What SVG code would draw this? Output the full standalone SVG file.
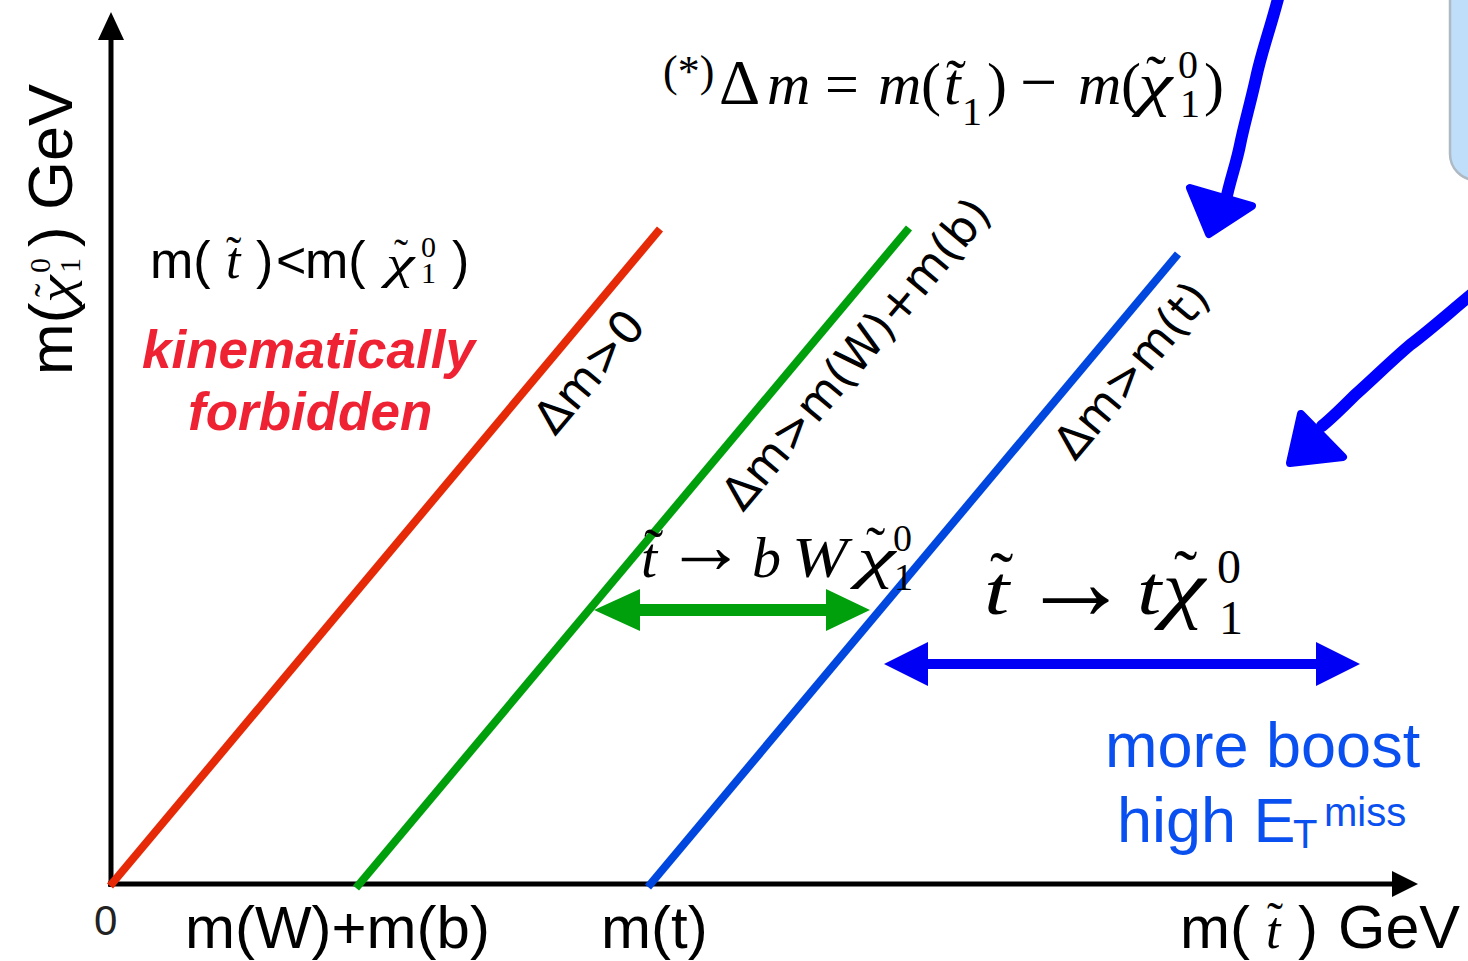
<svg xmlns="http://www.w3.org/2000/svg" width="1468" height="961" viewBox="0 0 1468 961">
<style>
.sans{font-family:"Liberation Sans",Arial,sans-serif}
.serif{font-family:"Liberation Serif","DejaVu Serif","Times New Roman",serif}
.it{font-style:italic}
.lbl{font-family:"DejaVu Sans",sans-serif;font-size:46px;fill:#000}
.ax{stroke:#000;stroke-width:5;fill:none}
.hand{stroke:#0000FF;fill:none;stroke-linecap:round;stroke-linejoin:round}
.handhead{fill:#0000FF;stroke:#0000FF;stroke-width:8;stroke-linejoin:round}
</style>
<rect width="1468" height="961" fill="#fff"/>
<g id="note-box">
<rect x="1450" y="-40" width="62" height="220" rx="26" fill="#BFDEF9" stroke="#AEB9C3" stroke-width="2.5"/>
</g>
<g id="axes">
<line class="ax" x1="111" y1="887" x2="111" y2="36"/>
<polygon points="111,12 98,40 124,40" fill="#000"/>
<line class="ax" x1="108" y1="884" x2="1396" y2="884"/>
<polygon points="1418,884 1392,871 1392,897" fill="#000"/>
</g>
<g id="connectors">
<line id="red-line" x1="110" y1="886" x2="660" y2="229" stroke="#E62A08" stroke-width="8"/>
<line id="green-line" x1="356" y1="888" x2="909" y2="228" stroke="#00A00C" stroke-width="8"/>
<line id="blue-line" x1="648" y1="887" x2="1178" y2="254" stroke="#0047E0" stroke-width="8"/>
<g id="green-arrow" fill="#00A00C">
<line x1="635" y1="610" x2="830" y2="610" stroke="#00A00C" stroke-width="12"/>
<polygon points="594,610 640,589 640,631"/>
<polygon points="870,610 826,589 826,631"/>
</g>
<g id="blue-arrow" fill="#0000F5">
<line x1="920" y1="664" x2="1325" y2="664" stroke="#0000F5" stroke-width="10"/>
<polygon points="884,664 928,642 928,686"/>
<polygon points="1360,664 1316,642 1316,686"/>
</g>
<g id="hand-arrow-1">
<path class="hand" stroke-width="12" d="M1279,-5 C1270,30 1262,50 1256,78 C1250,105 1244,125 1240,145 C1236,165 1230,180 1226,200"/>
<polygon class="handhead" points="1190,188 1252,206 1209,234"/>
</g>
<g id="hand-arrow-2">
<path class="hand" stroke-width="12" d="M1472,294 C1450,312 1430,330 1410,345 C1390,362 1372,380 1355,395 C1342,408 1332,418 1322,426"/>
<polygon class="handhead" points="1301,414 1343,457 1290,463"/>
</g>
</g>
<g id="formula" class="serif" font-size="60">
<text x="663" y="86" font-size="44">(*)</text>
<text x="719" y="104" font-size="64">Δ</text>
<text x="767" y="104" class="it">m</text>
<text x="825" y="104">=</text>
<text x="878" y="104" class="it">m</text>
<text x="921" y="104">(</text>
<text x="944" y="104" class="it">t</text>
<text x="946" y="100">˜</text>
<text x="962" y="125" font-size="40">1</text>
<text x="987" y="104">)</text>
<text x="1020" y="104" font-size="66">−</text>
<text x="1078" y="104" class="it">m</text>
<text x="1121" y="104">(</text>
<text class="it" transform="translate(1138,104) scale(1.3,1)">χ</text>
<text x="1146" y="96">˜</text>
<text x="1178" y="78" font-size="40">0</text>
<text x="1180" y="117" font-size="40">1</text>
<text x="1204" y="104">)</text>
</g>
<g id="y-label" transform="translate(72,375) rotate(-90)">
<text x="0" y="0" class="sans" font-size="62">m(</text>
<text class="serif it" font-size="48" transform="translate(72,0) scale(1.3,1)">χ</text>
<text x="78" y="-10" class="serif" font-size="40">˜</text>
<text x="102" y="-22" class="serif" font-size="30">0</text>
<text x="102" y="8" class="serif" font-size="30">1</text>
<text x="128" y="0" class="sans" font-size="62">)</text>
<text x="165" y="0" class="sans" font-size="63">GeV</text>
</g>
<g id="forbidden-label">
<text x="150" y="278" class="sans" font-size="52">m(</text>
<text x="226" y="278" class="serif it" font-size="52">t</text>
<text x="226" y="268" class="serif" font-size="46">˜</text>
<text x="256" y="278" class="sans" font-size="52">)</text>
<text x="276" y="278" class="sans" font-size="52">&lt;</text>
<text x="305" y="278" class="sans" font-size="52">m(</text>
<text class="serif it" font-size="46" transform="translate(386,278) scale(1.4,1)">χ</text>
<text x="394" y="268" class="serif" font-size="42">˜</text>
<text x="421" y="257" class="serif" font-size="30">0</text>
<text x="421" y="283" class="serif" font-size="30">1</text>
<text x="452" y="278" class="sans" font-size="52">)</text>
<text x="142" y="368" class="sans" font-size="53" font-weight="bold" font-style="italic" fill="#EE2233">kinematically</text>
<text x="188" y="430" class="sans" font-size="53" font-weight="bold" font-style="italic" fill="#EE2233">forbidden</text>
</g>
<g id="line-labels">
<text class="lbl" transform="translate(555,437) rotate(-50)">Δm&gt;0</text>
<text class="lbl" transform="translate(743,513) rotate(-50)">Δm&gt;m(W)+m(b)</text>
<text class="lbl" transform="translate(1075,462) rotate(-50)">Δm&gt;m(t)</text>
</g>
<g id="decay-bW" class="serif" font-size="58">
<text x="641" y="577" class="it">t</text>
<text x="644" y="568">˜</text>
<text x="665" y="573" font-size="81">→</text>
<text x="752" y="577" class="it">b</text>
<text class="it" transform="translate(792,577) scale(1.15,1)">W</text>
<text class="it" transform="translate(857,577) scale(1.5,1)">χ</text>
<text x="866" y="566">˜</text>
<text x="893" y="551" font-size="38">0</text>
<text x="894" y="590" font-size="38">1</text>
</g>
<g id="decay-t" class="serif" font-size="70">
<text class="it" transform="translate(984,614) scale(1.3,1)">t</text>
<text x="990" y="600">˜</text>
<text x="1020" y="619" font-size="111">→</text>
<text class="it" transform="translate(1137,614) scale(1.25,1)">t</text>
<text class="it" transform="translate(1162,614) scale(1.4,1.08)">χ</text>
<text x="1174" y="598">˜</text>
<text x="1217" y="583" font-size="48">0</text>
<text x="1219" y="634" font-size="48">1</text>
</g>
<g id="boost-label" class="sans" fill="#0A50F0">
<text x="1105" y="767" font-size="63">more boost</text>
<text x="1117" y="842" font-size="63">high E</text>
<text x="1293" y="848" font-size="40">T</text>
<text x="1324" y="826" font-size="40">miss</text>
</g>
<g id="x-labels" class="sans">
<text x="94" y="935" font-size="42" fill="#222">0</text>
<text x="185" y="948" font-size="60">m(W)+m(b)</text>
<text x="601" y="948" font-size="60">m(t)</text>
<text x="1180" y="948" font-size="60">m(</text>
<text x="1266" y="948" class="serif it" font-size="52">t</text>
<text x="1267" y="936" class="serif" font-size="48">˜</text>
<text x="1298" y="948" font-size="60">)</text>
<text x="1338" y="948" font-size="61">GeV</text>
</g>
</svg>
